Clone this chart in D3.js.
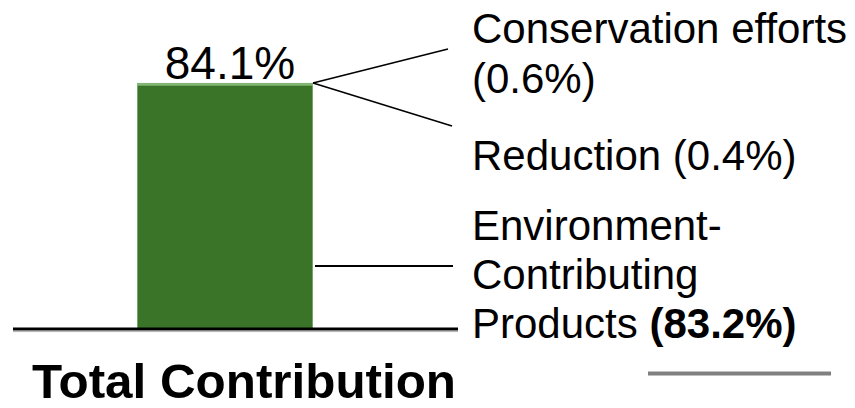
<!DOCTYPE html>
<html>
<head>
<meta charset="utf-8">
<script src="https://cdn.jsdelivr.net/npm/d3@7"></script>
<style>
  html, body { margin: 0; padding: 0; background: #fff; }
  svg { display: block; font-family: "Liberation Sans", Arial, sans-serif; }
</style>
</head>
<body>
<svg id="chart" width="855" height="408"></svg>
<script>
// Stacked contribution bar: one category, three components (percent)
const categories = ["Total Contribution"];
const segmentNames = ["Environment-Contributing Products", "Reduction", "Conservation efforts"];
const segmentValues = [83.2, 0.4, 0.6];
const totalLabel = "84.1%";

const svg = d3.select("#chart");

const x = d3.scaleBand().domain(categories).range([137, 313]).padding(0);
const y = d3.scaleLinear().domain([0, 100]).range([329, 36.8]);

// stacked segments
const stacked = [];
let acc = 0;
segmentValues.forEach((v, i) => {
  stacked.push({ name: segmentNames[i], y0: acc, y1: acc + v });
  acc += v;
});
const fills = ["#3a7429", "#5c9a4a", "#6aa857"];

svg.append("g").selectAll("rect")
  .data(stacked)
  .join("rect")
  .attr("x", x(categories[0]))
  .attr("width", x.bandwidth())
  .attr("y", d => y(d.y1))
  .attr("height", d => y(d.y0) - y(d.y1))
  .attr("fill", (d, i) => fills[i]);

// soft edge around the bar
svg.append("rect")
  .attr("x", x(categories[0]) + 0.5)
  .attr("y", y(acc) + 0.5)
  .attr("width", x.bandwidth() - 1)
  .attr("height", y(0) - y(acc) - 1)
  .attr("fill", "none")
  .attr("stroke", "#8dbb7f")
  .attr("stroke-width", 1)
  .attr("stroke-opacity", 0.7);

// baseline
svg.append("line")
  .attr("x1", 13).attr("x2", 458)
  .attr("y1", y(0) + 2.6).attr("y2", y(0) + 2.6)
  .attr("stroke", "#b0b0b0").attr("stroke-width", 1);
svg.append("line")
  .attr("x1", 13).attr("x2", 458)
  .attr("y1", y(0)).attr("y2", y(0))
  .attr("stroke", "#000").attr("stroke-width", 3.2);

// total label above the bar
svg.append("text")
  .attr("x", x(categories[0]) + x.bandwidth() / 2 + 5)
  .attr("y", y(acc) - 4)
  .attr("text-anchor", "middle")
  .attr("font-size", 46)
  .attr("fill", "#000")
  .text(totalLabel);

// category label
svg.append("text")
  .attr("x", x(categories[0]) + x.bandwidth() / 2 + 19)
  .attr("y", 398)
  .attr("text-anchor", "middle")
  .attr("font-size", 48)
  .attr("font-weight", "bold")
  .attr("textLength", 424)
  .attr("lengthAdjust", "spacingAndGlyphs")
  .attr("fill", "#000")
  .text(categories[0]);

// leader lines
const barRight = x(categories[0]) + x.bandwidth();
const topY = y(acc);
const leaders = svg.append("g").attr("stroke", "#000").attr("fill", "none");
leaders.append("line").attr("x1", barRight).attr("y1", topY).attr("x2", 448).attr("y2", 49).attr("stroke-width", 1.6);
leaders.append("line").attr("x1", barRight).attr("y1", topY).attr("x2", 452).attr("y2", 126).attr("stroke-width", 1.6);
leaders.append("line").attr("x1", barRight + 2).attr("y1", 266).attr("x2", 453).attr("y2", 266).attr("stroke-width", 2.2);

// segment labels
const fmt = v => "(" + v.toFixed(1) + "%)";
const labels = svg.append("g").attr("font-size", 42).attr("fill", "#000");
const lx = 472;

const t1 = labels.append("text").attr("x", lx).attr("y", 43);
t1.append("tspan").attr("x", lx).text(segmentNames[2]);
t1.append("tspan").attr("x", lx).attr("dy", 50).text(fmt(segmentValues[2]));

labels.append("text").attr("x", lx).attr("y", 170)
  .text(segmentNames[1] + " " + fmt(segmentValues[1]));

const t3 = labels.append("text").attr("x", lx).attr("y", 240);
t3.append("tspan").attr("x", lx).text("Environment-");
t3.append("tspan").attr("x", lx).attr("dy", 49).text("Contributing");
t3.append("tspan").attr("x", lx).attr("dy", 49).text("Products ");
t3.append("tspan").attr("font-weight", "bold").text(fmt(segmentValues[0]));

// short grey rule at lower right
svg.append("line")
  .attr("x1", 648).attr("x2", 831)
  .attr("y1", 373.5).attr("y2", 373.5)
  .attr("stroke", "#808080").attr("stroke-width", 4);
</script>
</body>
</html>
